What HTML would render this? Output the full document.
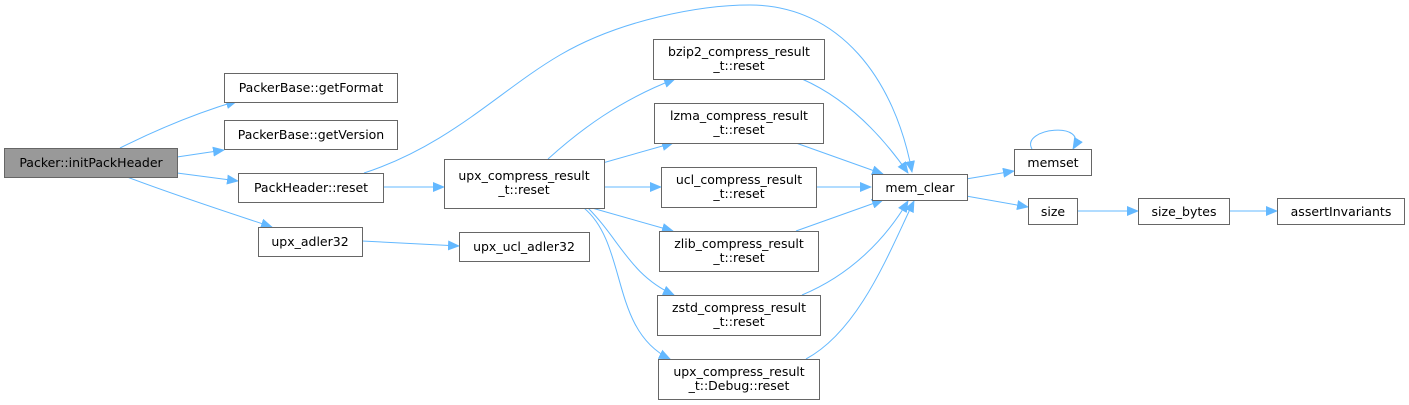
<!DOCTYPE html>
<html><head><meta charset="utf-8">
<style>
html,body{margin:0;padding:0;background:#fff;}
svg{display:block;}
text{font-family:"DejaVu Sans","Liberation Sans",sans-serif;font-size:12.5px;fill:#000;}
</style></head><body>
<svg width="1409" height="405" viewBox="0 0 1409 405" xmlns="http://www.w3.org/2000/svg">
<defs>
<marker id="a" markerUnits="userSpaceOnUse" markerWidth="12" markerHeight="10" refX="11" refY="5" orient="auto">
<polygon points="0,0 12,5 0,10" fill="#63b8ff"/>
</marker>
</defs>
<g fill="none" stroke="#63b8ff" stroke-width="1" marker-end="url(#a)">
<path d="M120,148 C160,128 200,112 237,101"/>
<path d="M177,157 L224,150"/>
<path d="M177,173 L238,181"/>
<path d="M127,177 C180,197 230,213 272,227"/>
<path d="M383,187 L444,187"/>
<path d="M364,173 C450,145 500,90 560,55 C620,20 700,5 750,5 C840,5 895,80 912,172"/>
<path d="M362,241 L459,246"/>
<path d="M548,159 C580,130 620,100 675,79"/>
<path d="M592,166 L673,143"/>
<path d="M604,187 L661,187"/>
<path d="M592,208 L673,231"/>
<path d="M588,208 C620,240 630,275 674,295"/>
<path d="M584,208 C628,245 610,330 670,359"/>
<path d="M802,79 C850,100 885,140 908,173"/>
<path d="M796,143 L883,174"/>
<path d="M816,187 L871,187"/>
<path d="M796,231 L883,200"/>
<path d="M802,295 C850,275 885,240 908,201"/>
<path d="M806,359 C860,330 890,250 914,201"/>
<path d="M966,179 L1014,171"/>
<path d="M966,196 L1028,207"/>
<path d="M1077,211 L1138,211"/>
<path d="M1229,211 L1277,211"/>
<path d="M1032,149 C1020,128 1090,120 1073,149"/>
</g>
<g stroke="#666" stroke-width="1">
<rect x="4.5" y="148.5" width="173" height="29" fill="#999"/>
<rect x="224.5" y="73.5" width="173" height="29" fill="#fff"/>
<rect x="224.5" y="120.5" width="173" height="29" fill="#fff"/>
<rect x="238.5" y="173.5" width="145" height="29" fill="#fff"/>
<rect x="258.5" y="227.5" width="104" height="29" fill="#fff"/>
<rect x="444.5" y="159.5" width="160" height="49" fill="#fff"/>
<rect x="459.5" y="232.5" width="130" height="29" fill="#fff"/>
<rect x="653.5" y="39.5" width="171" height="40" fill="#fff"/>
<rect x="654.5" y="103.5" width="169" height="40" fill="#fff"/>
<rect x="661.5" y="167.5" width="155" height="40" fill="#fff"/>
<rect x="659.5" y="231.5" width="159" height="40" fill="#fff"/>
<rect x="657.5" y="295.5" width="163" height="40" fill="#fff"/>
<rect x="658.5" y="359.5" width="161" height="40" fill="#fff"/>
<rect x="872.5" y="174.5" width="95" height="26" fill="#fff"/>
<rect x="1014.5" y="149.5" width="77" height="26" fill="#fff"/>
<rect x="1028.5" y="198.5" width="49" height="26" fill="#fff"/>
<rect x="1138.5" y="198.5" width="91" height="26" fill="#fff"/>
<rect x="1277.5" y="198.5" width="127" height="26" fill="#fff"/>
</g>
<g text-anchor="middle">
<text x="91" y="167">Packer::initPackHeader</text>
<text x="311" y="92">PackerBase::getFormat</text>
<text x="311" y="139">PackerBase::getVersion</text>
<text x="311" y="192">PackHeader::reset</text>
<text x="310" y="246">upx_adler32</text>
<text x="524" y="180">upx_compress_result</text>
<text x="524" y="194">_t::reset</text>
<text x="524" y="251">upx_ucl_adler32</text>
<text x="739" y="56">bzip2_compress_result</text>
<text x="739" y="70">_t::reset</text>
<text x="739" y="120">lzma_compress_result</text>
<text x="739" y="134">_t::reset</text>
<text x="739" y="184">ucl_compress_result</text>
<text x="739" y="198">_t::reset</text>
<text x="739" y="248">zlib_compress_result</text>
<text x="739" y="262">_t::reset</text>
<text x="739" y="312">zstd_compress_result</text>
<text x="739" y="326">_t::reset</text>
<text x="739" y="376">upx_compress_result</text>
<text x="739" y="390">_t::Debug::reset</text>
<text x="920" y="192">mem_clear</text>
<text x="1053" y="167">memset</text>
<text x="1053" y="216">size</text>
<text x="1184" y="216">size_bytes</text>
<text x="1341" y="216">assertInvariants</text>
</g>
</svg>
</body></html>
